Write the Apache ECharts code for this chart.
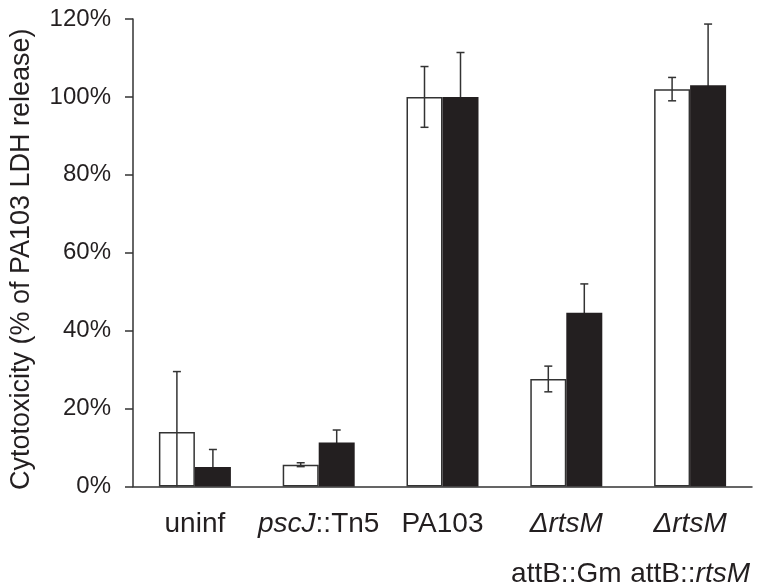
<!DOCTYPE html>
<html>
<head>
<meta charset="utf-8">
<script src="https://cdn.jsdelivr.net/npm/echarts@6/dist/echarts.min.js"></script>
<style>
  html, body { margin: 0; padding: 0; background: #fff; }
  #chart { width: 762px; height: 588px; }
</style>
</head>
<body>
<div id="chart"></div>
<script>
// categories with rich-text markup for the italic gene names
const categories = ['uninf', 'pscJ::Tn5', 'PA103', 'ΔrtsM attB::Gm', 'ΔrtsM attB::rtsM']
const categoryLabels = [
  '{n|uninf}',
  '{i|pscJ}{n|::Tn5}',
  '{n|PA103}',
  '{i|ΔrtsM}\n{s|attB::Gm}',
  '{i|ΔrtsM}\n{s|attB::}{si|rtsM}'
]
// white bars / black bars (% of PA103 LDH release)
const whiteValues = [14, 5.6, 100, 27.6, 102]
const whiteErrors = [15.5, 0.5, 7.8, 3.3, 3.0]
const blackValues = [5, 11.3, 100, 44.6, 103]
const blackErrors = [4.5, 3.2, 11.4, 7.4, 15.7]
const yTicks = [0, 20, 40, 60, 80, 100, 120]

const axisColor = '#333'
const textColor = '#231f20'
const font = 'Liberation Sans, Arial, sans-serif'
const barW = 36

const errData = (vals, errs) => vals.map((v, i) => [i, v - errs[i], v + errs[i]])

// error bar drawn at the centre of one of the two bars in a group
const errorItem = (offset) => (params, api) => {
  const idx = api.value(0)
  const lo = api.value(1)
  const hi = api.value(2)
  const pHi = api.coord([idx, hi])
  const pLo = api.coord([idx, Math.max(lo, 0)])
  const cx = pHi[0] + offset
  const style = { stroke: axisColor, lineWidth: 1.5 }
  const children = [
    { type: 'line', shape: { x1: cx, y1: pHi[1], x2: cx, y2: pLo[1] }, style },
    { type: 'line', shape: { x1: cx - 4, y1: pHi[1], x2: cx + 4, y2: pHi[1] }, style }
  ]
  if (lo > 0) {
    children.push({ type: 'line', shape: { x1: cx - 4, y1: pLo[1], x2: cx + 4, y2: pLo[1] }, style })
  }
  return { type: 'group', children }
}

const myChart = echarts.init(document.getElementById('chart'))
const option = {
  animation: false,
  grid: { left: 129, right: 10, top: 19, bottom: 101 },
  xAxis: {
    type: 'category',
    data: categories,
    axisLine: { lineStyle: { color: axisColor, width: 1.5 } },
    axisTick: { show: false },
    axisLabel: {
      interval: 0,
      margin: 23,
      formatter: (v, i) => categoryLabels[i],
      rich: {
        n: { fontFamily: font, fontSize: 28, color: textColor, lineHeight: 30 },
        i: { fontFamily: font, fontSize: 28, fontStyle: 'italic', color: textColor, lineHeight: 30 },
        s: { fontFamily: font, fontSize: 28, color: textColor, lineHeight: 69 },
        si: { fontFamily: font, fontSize: 28, fontStyle: 'italic', color: textColor, lineHeight: 69 }
      }
    }
  },
  yAxis: {
    type: 'value',
    min: yTicks[0],
    max: yTicks[yTicks.length - 1],
    interval: 20,
    name: 'Cytotoxicity (% of PA103 LDH release)',
    nameLocation: 'middle',
    nameGap: 98,
    nameTextStyle: { fontFamily: font, fontSize: 27, color: textColor, padding: [0, 13, 0, 0] },
    splitLine: { show: false },
    axisLine: { show: true, lineStyle: { color: axisColor, width: 1.5 } },
    axisTick: { show: true, length: 8, lineStyle: { color: axisColor, width: 1.5 } },
    axisLabel: {
      margin: 22,
      fontFamily: font,
      fontSize: 24,
      color: textColor,
      formatter: '{value}%'
    }
  },
  series: [
    {
      type: 'bar',
      data: whiteValues,
      barWidth: barW,
      barGap: '0%',
      z: 2,
      itemStyle: { color: '#fff', borderColor: axisColor, borderWidth: 1.5 }
    },
    {
      type: 'bar',
      data: blackValues,
      barWidth: barW,
      barGap: '0%',
      z: 2,
      itemStyle: { color: '#231f20' }
    },
    {
      type: 'custom',
      data: errData(whiteValues, whiteErrors),
      renderItem: errorItem(-barW / 2),
      encode: { x: 0, y: [1, 2] },
      z: 3
    },
    {
      type: 'custom',
      data: errData(blackValues, blackErrors),
      renderItem: errorItem(barW / 2),
      encode: { x: 0, y: [1, 2] },
      z: 1
    }
  ]
}
option && myChart.setOption(option)
</script>
</body>
</html>
